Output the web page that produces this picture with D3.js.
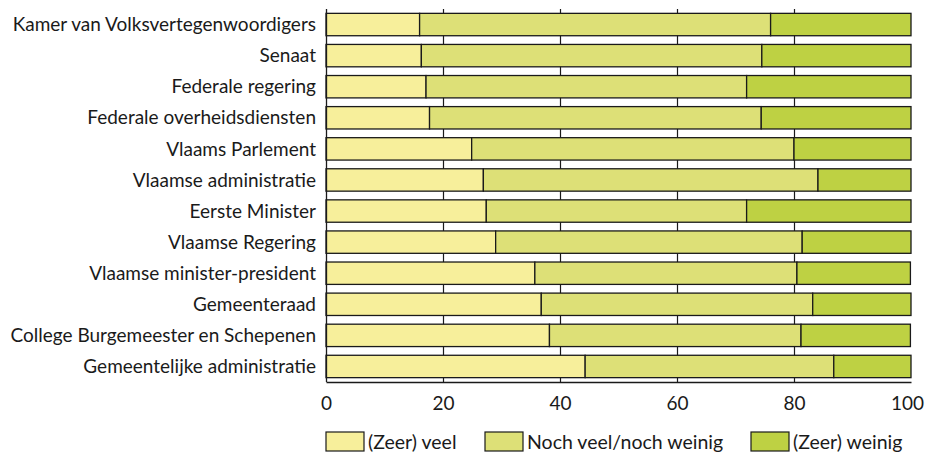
<!DOCTYPE html>
<html lang="nl">
<head>
<meta charset="UTF-8">
<title>Vertrouwen in instellingen</title>
<script src="https://d3js.org/d3.v7.min.js"></script>
<style>
    body { margin: 0; background: #fff; }
    svg text { font-family: Lato, "Open Sans", sans-serif; fill: #1a1a1a; }
</style>
</head>
<body>
<div id="chart"></div>
<script>

// categories, top to bottom
var categories = [
    'Kamer van Volksvertegenwoordigers',
    'Senaat',
    'Federale regering',
    'Federale overheidsdiensten',
    'Vlaams Parlement',
    'Vlaamse administratie',
    'Eerste Minister',
    'Vlaamse Regering',
    'Vlaamse minister-president',
    'Gemeenteraad',
    'College Burgemeester en Schepenen',
    'Gemeentelijke administratie'
];

// percentages per series
var veel   = [16.0, 16.3, 17.1, 17.7, 24.9, 26.9, 27.4, 29.0, 35.7, 36.8, 38.2, 44.3];
var noch   = [60.0, 58.2, 54.8, 56.7, 55.1, 57.2, 44.5, 52.4, 44.8, 46.4, 43.0, 42.5];
var weinig = [24.0, 25.5, 28.1, 25.6, 20.0, 15.9, 28.1, 18.6, 19.4, 16.8, 18.7, 13.2];

var seriesNames = ['(Zeer) veel', 'Noch veel/noch weinig', '(Zeer) weinig'];
var seriesColors = ['#f7ef9b', '#dde077', '#bed143'];
var xTicks = [0, 20, 40, 60, 80, 100];

var width = 925, height = 452;
var margin = {top: 9, left: 326, right: 14, bottom: 70};
var innerW = width - margin.left - margin.right;
var innerH = height - margin.top - margin.bottom;

var rows = categories.map(function(c, i) {
    return {cat: c, values: [veel[i], noch[i], weinig[i]]};
});
var stacked = rows.map(function(r) {
    var x0 = 0;
    return r.values.map(function(v, k) {
        var seg = {cat: r.cat, k: k, x0: x0, x1: x0 + v};
        x0 += v;
        return seg;
    });
});

var x = d3.scaleLinear().domain([0, 100]).range([0, innerW]);
var y = d3.scaleBand().domain(categories).range([0, innerH]).paddingInner(0.28).paddingOuter(0.14);

var svg = d3.select('#chart').append('svg')
    .attr('width', width)
    .attr('height', height);

var g = svg.append('g')
    .attr('transform', 'translate(' + margin.left + ',' + margin.top + ')');

// grid lines behind bars
g.selectAll('line.grid')
    .data(xTicks.slice(1, -1))
    .enter().append('line')
    .attr('class', 'grid')
    .attr('x1', function(d) { return Math.round(x(d)) + 0.5; })
    .attr('x2', function(d) { return Math.round(x(d)) + 0.5; })
    .attr('y1', 0)
    .attr('y2', innerH)
    .attr('stroke', '#1a1a1a')
    .attr('stroke-width', 1.2);

// bars
g.selectAll('g.row')
    .data(stacked)
    .enter().append('g')
    .attr('class', 'row')
    .selectAll('rect')
    .data(function(d) { return d; })
    .enter().append('rect')
    .attr('x', function(d) { return x(d.x0); })
    .attr('width', function(d) { return x(d.x1) - x(d.x0); })
    .attr('y', function(d) { return y(d.cat); })
    .attr('height', y.bandwidth())
    .attr('fill', function(d) { return seriesColors[d.k]; })
    .attr('stroke', '#1a1a1a')
    .attr('stroke-width', 1.3);

// axes lines
g.append('line')
    .attr('x1', 0.5).attr('x2', 0.5)
    .attr('y1', 0).attr('y2', innerH)
    .attr('stroke', '#1a1a1a').attr('stroke-width', 1.3);

var xAxis = d3.axisBottom(x).tickValues(xTicks).tickSize(0);
var ax = g.append('g')
    .attr('transform', 'translate(0,' + innerH + ')')
    .call(xAxis);
ax.select('.domain').attr('stroke', '#1a1a1a').attr('stroke-width', 1.3);
ax.selectAll('text')
    .attr('y', 21.5)
    .attr('dy', '0.35em')
    .attr('x', function(d) { return d === 100 ? -4 : 0; })
    .style('font-size', '19px')
    .style('font-family', 'Lato, "Open Sans", sans-serif')
    .attr('fill', '#1a1a1a');

// category labels
g.selectAll('text.cat')
    .data(categories)
    .enter().append('text')
    .attr('class', 'cat')
    .attr('x', -10)
    .attr('y', function(d) { return y(d) + y.bandwidth() / 2; })
    .attr('dy', '0.35em')
    .attr('text-anchor', 'end')
    .style('font-size', '19px')
    .text(function(d) { return d; });

// legend
var legendX = [326, 485, 751];
var legend = svg.append('g').attr('class', 'legend');
var items = legend.selectAll('g')
    .data(seriesNames)
    .enter().append('g')
    .attr('transform', function(d, i) { return 'translate(' + legendX[i] + ',432)'; });
items.append('rect')
    .attr('width', 38)
    .attr('height', 19)
    .attr('fill', function(d, i) { return seriesColors[i]; })
    .attr('stroke', '#1a1a1a')
    .attr('stroke-width', 1.2);
items.append('text')
    .attr('x', 42)
    .attr('y', 10)
    .attr('dy', '0.35em')
    .style('font-size', '19.5px')
    .text(function(d) { return d; });

</script>
</body>
</html>
